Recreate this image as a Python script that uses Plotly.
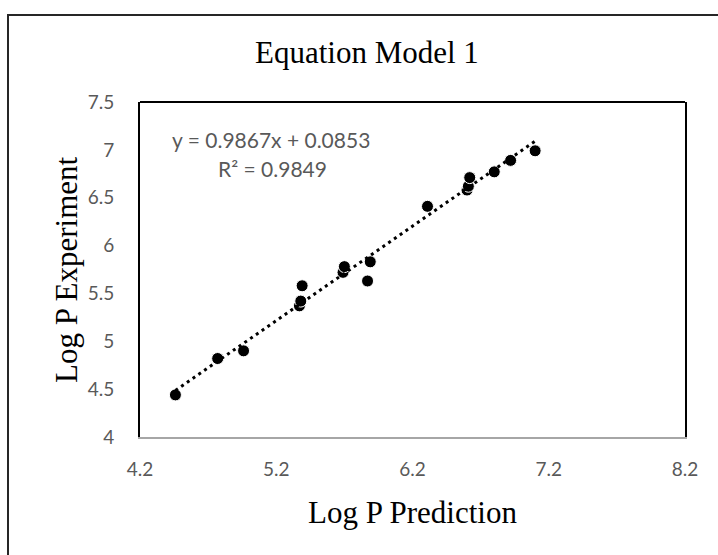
import plotly.graph_objects as go

# ---- data ----
log_p_prediction = [4.46, 4.77, 4.96, 5.37, 5.38, 5.39, 5.69, 5.70, 5.87, 5.89, 6.31, 6.60, 6.61, 6.62, 6.80, 6.92, 7.10]
log_p_experiment = [4.44, 4.82, 4.90, 5.37, 5.42, 5.58, 5.72, 5.78, 5.63, 5.83, 6.41, 6.58, 6.62, 6.71, 6.77, 6.89, 6.99]
trend_slope = 0.9867
trend_intercept = 0.0853
r_squared = 0.9849

title_text = "Equation Model 1"
x_title = "Log P Prediction"
y_title = "Log P Experiment"
x_ticks = [4.2, 5.2, 6.2, 7.2, 8.2]
y_ticks = [4, 4.5, 5, 5.5, 6, 6.5, 7, 7.5]

# ---- layout geometry (pixels) ----
W, H = 718, 555
L, R, T, B = 140, 685, 102, 437


def px(xp):
    return (xp - L) / (R - L)


def py(yp):
    return (B - yp) / (B - T)


trend_x = [min(log_p_prediction), max(log_p_prediction)]
trend_y = [trend_slope * v + trend_intercept for v in trend_x]

serif = "Liberation Serif, Times New Roman, serif"
sans = "Lato, Carlito, Calibri, sans-serif"
grey = "#595959"

fig = go.Figure()
fig.add_trace(go.Scatter(
    x=log_p_prediction, y=log_p_experiment, mode="markers",
    marker=dict(color="black", size=12, line=dict(color="white", width=1)),
    showlegend=False, hoverinfo="x+y",
))
fig.add_trace(go.Scatter(
    x=trend_x, y=trend_y, mode="lines",
    line=dict(color="black", width=3, dash="3px,4px"),
    showlegend=False, hoverinfo="skip",
))

fig.update_layout(
    width=W, height=H,
    margin=dict(l=L, r=W - R, t=T, b=H - B, autoexpand=False),
    paper_bgcolor="white", plot_bgcolor="white",
    xaxis=dict(
        range=[4.2, 8.2], tickvals=x_ticks, ticktext=[f"{v:.1f}" for v in x_ticks],
        showgrid=False, zeroline=False, showline=True, linecolor="#a6a6a6", linewidth=2,
        ticks="", ticklabelstandoff=14,
        tickfont=dict(family=sans, size=19, color=grey),
    ),
    yaxis=dict(
        range=[4, 7.5], tickvals=y_ticks, ticktext=[f"{v:g}" for v in y_ticks],
        showgrid=False, zeroline=False, showline=True, linecolor="black", linewidth=2,
        mirror=True, ticks="", ticklabelstandoff=20,
        tickfont=dict(family=sans, size=19, color=grey),
    ),
    shapes=[
        dict(type="line", xref="paper", yref="paper", x0=0, x1=1, y0=1, y1=1,
             line=dict(color="black", width=2)),
        dict(type="rect", xref="paper", yref="paper",
             x0=px(8), x1=px(740), y0=py(15), y1=py(580),
             line=dict(color="#262626", width=2), fillcolor="rgba(0,0,0,0)"),
    ],
    annotations=[
        dict(text=title_text, xref="paper", yref="paper", x=px(367), y=py(53),
             showarrow=False, xanchor="center", yanchor="middle",
             font=dict(family=serif, size=31, color="black")),
        dict(text=x_title, xref="paper", yref="paper", x=px(412), y=py(512),
             showarrow=False, xanchor="center", yanchor="middle",
             font=dict(family=serif, size=31, color="black")),
        dict(text=y_title, xref="paper", yref="paper", x=px(66), y=py(270),
             showarrow=False, xanchor="center", yanchor="middle", textangle=-90,
             font=dict(family=serif, size=31, color="black")),
        dict(text=f"y = {trend_slope}x + {trend_intercept}", xref="paper", yref="paper",
             x=px(271), y=py(139), showarrow=False, xanchor="center", yanchor="middle",
             font=dict(family=sans, size=21, color=grey)),
        dict(text=f"R² = {r_squared}", xref="paper", yref="paper",
             x=px(272), y=py(168), showarrow=False, xanchor="center", yanchor="middle",
             font=dict(family=sans, size=21, color=grey)),
    ],
)

fig.write_html(
    "out.html",
    config={"displayModeBar": False},
    post_script="document.body.style.margin='0';document.body.style.overflow='hidden';",
)
